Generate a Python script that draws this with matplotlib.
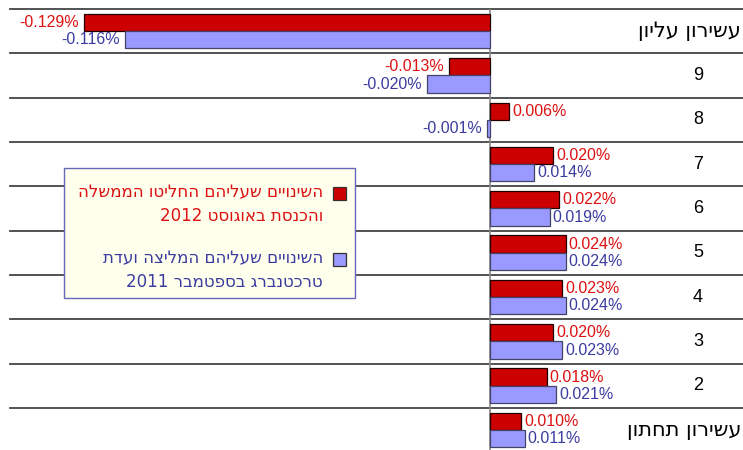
import re
import matplotlib
matplotlib.use('Agg')
import matplotlib.pyplot as plt
from matplotlib.patches import Rectangle

plt.rcParams['font.family'] = ['Liberation Sans', 'DejaVu Sans']
HEB_FONT = ['DejaVu Sans', 'Liberation Sans']

# === Data (percent change) ===
categories = ['עשירון עליון', '9', '8', '7', '6', '5', '4', '3', '2', 'עשירון תחתון']
gov_2012 = [-0.129, -0.013, 0.006, 0.020, 0.022, 0.024, 0.023, 0.020, 0.018, 0.010]
trajtenberg_2011 = [-0.116, -0.020, -0.001, 0.014, 0.019, 0.024, 0.024, 0.023, 0.021, 0.011]

legend_gov = 'השינויים שעליהם החליטו הממשלה\nוהכנסת באוגוסט 2012'
legend_traj = 'השינויים שעליהם המליצה ועדת\nטרכטנברג בספטמבר 2011'

RED = '#cc0000'
RED_TXT = '#dd1111'
BLUE = '#9999ff'
BLUE_TXT = '#3c3ca0'


def heb(s):
    # matplotlib has no bidi support: reverse visually, keep digit runs in order
    lines = []
    for line in s.split('\n'):
        r = line[::-1]
        lines.append(re.sub(r'\d+', lambda m: m.group()[::-1], r))
    return '\n'.join(lines)


W, H = 743, 450
fig = plt.figure(figsize=(W / 100, H / 100), dpi=100)

# axes: x from px 10 to 743, y from px 9 down to bottom
ax = fig.add_axes([10 / W, 0, (W - 10) / W, (H - 9) / H])
scale = 3150.0  # px per 1%
ax.set_xlim((10 - 490) / scale, (W - 490) / scale)
ax.set_ylim(9.45, -0.5)
ax.axis('off')

ypos = list(range(len(categories)))
h = 0.39
ax.barh([y - 0.195 for y in ypos], gov_2012, height=h, color=RED,
        edgecolor='#220000', linewidth=0.9, zorder=3)
ax.barh([y + 0.195 for y in ypos], trajtenberg_2011, height=h, color=BLUE,
        edgecolor='#444466', linewidth=0.9, zorder=3)

# value labels
for series, dy, col in [(gov_2012, -0.195, RED_TXT), (trajtenberg_2011, 0.195, BLUE_TXT)]:
    for y, v in zip(ypos, series):
        gap = (3 if v >= 0 else -5) / scale
        ax.text(v + gap, y + dy, f'{v:.3f}%',
                ha='left' if v >= 0 else 'right', va='center',
                fontsize=11.5, color=col, zorder=4)

# zero line
ax.axvline(0, color='#888888', linewidth=1.2, zorder=2)

# row separators
for b in [i - 0.5 for i in range(len(categories))]:
    ax.axhline(b, color='#444444', linewidth=1.3, zorder=1, clip_on=False)

# category labels on the right
for y, c in zip(ypos, categories):
    if c.isdigit():
        ax.text((698 - 490) / scale, y, c, ha='center', va='center',
                fontsize=13, color='black')
    else:
        ax.text((741 - 490) / scale, y, heb(c), ha='right', va='center',
                fontsize=15, color='black', family=HEB_FONT)

# === Legend (drawn by hand, right-to-left) ===
def px(x, y):
    return x / W, 1 - y / H

x0, y0 = px(64, 298)
fig.patches.append(Rectangle((x0, y0), (355 - 64) / W, (298 - 168) / H,
                             transform=fig.transFigure, facecolor='#ffffee',
                             edgecolor='#6666bb', linewidth=1.0, zorder=10))
for (color, txt_color, label, ytop) in [(RED, RED_TXT, legend_gov, 187),
                                        (BLUE, BLUE_TXT, legend_traj, 253)]:
    sx, sy = px(333, ytop + 13)
    fig.patches.append(Rectangle((sx, sy), 13 / W, 13 / H,
                                 transform=fig.transFigure, facecolor=color,
                                 edgecolor='#333333', linewidth=0.9, zorder=11))
    tx, ty = px(323, ytop + 17)
    fig.text(tx, ty, heb(label), ha='right', va='center', multialignment='right',
             fontsize=12, color=txt_color, linespacing=1.4, zorder=12,
             family=HEB_FONT)

plt.savefig('out.png', dpi=100)
plt.close()
